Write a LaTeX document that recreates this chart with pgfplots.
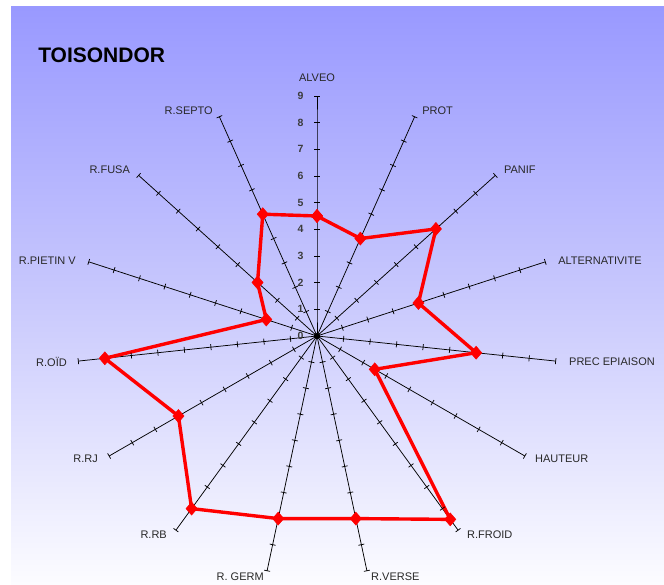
\documentclass[border=0pt]{standalone}
\usepackage{fontspec}
\setmainfont{Liberation Sans}
\usepackage{pgfplots}
\pgfplotsset{compat=1.18}
\definecolor{bgtop}{RGB}{153,153,255}
\definecolor{bgmid}{RGB}{200,200,253}
\definecolor{bgbot}{RGB}{252,252,255}
\definecolor{lbl}{RGB}{40,40,40}
\begin{document}
\begin{tikzpicture}
\begin{axis}[hide axis, x=26.667pt, y=26.667pt, scale only axis,
  xmin=-11.8875, xmax=13.0125, ymin=-9.3, ymax=12.6, clip=false]
\fill[white] (rel axis cs:0,0) rectangle (rel axis cs:1,1);
\shade[top color=bgtop, bottom color=bgbot, middle color=bgmid] (axis cs:-11.475,-9.3) rectangle (axis cs:13.0125,12.3375);
% spokes
\pgfplotsinvokeforeach{90,66,42,18,354,330,306,282,258,234,210,186,162,138,114}{
  \addplot[black, line width=0.75pt, data cs=polar, mark=|, mark size=3pt, mark options={rotate=#1, line width=0.75pt}]
    coordinates {(#1,0)(#1,1)(#1,2)(#1,3)(#1,4)(#1,5)(#1,6)(#1,7)(#1,8)(#1,9)};
}
\fill[black] (axis cs:0,0) circle[radius=2.5pt];
% data
\addplot[red, line width=3.4pt, data cs=polar, mark=diamond*, mark size=6.5pt, mark options={xscale=1.15, fill=red, line width=0.5pt}]
 coordinates {(90,4.5)(66,4)(42,6)(18,4)(354,6)(330,2.5)(306,8.5)(282,7)(258,7)(234,8)(210,6)(186,8)(162,2)(138,3)(114,5)(90,4.5)};
% tick numbers
\pgfplotsinvokeforeach{0,...,9}{
  \node[anchor=east, inner sep=0pt, font=\fontsize{10.5}{11}\selectfont\bfseries, text={rgb,255:red,60;green,60;blue,60}] at (axis cs:-0.5,#1) {#1};
}
% category labels
\node[anchor=center, inner sep=0pt, font=\fontsize{11}{12}\selectfont, text=lbl] at (axis cs:0,9.675) {ALVEO};
\node[anchor=west, inner sep=0pt, font=\fontsize{11}{12}\selectfont, text=lbl] at (axis cs:3.94,8.44) {PROT};
\node[anchor=west, inner sep=0pt, font=\fontsize{11}{12}\selectfont, text=lbl] at (axis cs:7.01,6.225) {PANIF};
\node[anchor=west, inner sep=0pt, font=\fontsize{11}{12}\selectfont, text=lbl] at (axis cs:9.04,2.81) {ALTERNATIVITE};
\node[anchor=west, inner sep=0pt, font=\fontsize{11}{12}\selectfont, text=lbl] at (axis cs:9.45,-0.975) {PREC EPIAISON};
\node[anchor=west, inner sep=0pt, font=\fontsize{11}{12}\selectfont, text=lbl] at (axis cs:8.175,-4.61) {HAUTEUR};
\node[anchor=west, inner sep=0pt, font=\fontsize{11}{12}\selectfont, text=lbl] at (axis cs:5.625,-7.46) {R.FROID};
\node[anchor=west, inner sep=0pt, font=\fontsize{11}{12}\selectfont, text=lbl] at (axis cs:2.025,-9.04) {R.VERSE};
\node[anchor=east, inner sep=0pt, font=\fontsize{11}{12}\selectfont, text=lbl] at (axis cs:-1.99,-9.04) {R. GERM};
\node[anchor=east, inner sep=0pt, font=\fontsize{11}{12}\selectfont, text=lbl] at (axis cs:-5.625,-7.46) {R.RB};
\node[anchor=east, inner sep=0pt, font=\fontsize{11}{12}\selectfont, text=lbl] at (axis cs:-8.21,-4.61) {R.RJ};
\node[anchor=east, inner sep=0pt, font=\fontsize{11}{12}\selectfont, text=lbl] at (axis cs:-9.375,-0.975) {R.OÏD};
\node[anchor=east, inner sep=0pt, font=\fontsize{11}{12}\selectfont, text=lbl] at (axis cs:-9.04,2.81) {R.PIETIN V};
\node[anchor=east, inner sep=0pt, font=\fontsize{11}{12}\selectfont, text=lbl] at (axis cs:-7.01,6.225) {R.FUSA};
\node[anchor=east, inner sep=0pt, font=\fontsize{11}{12}\selectfont, text=lbl] at (axis cs:-3.9,8.44) {R.SEPTO};
\node[anchor=west, inner sep=0pt, font=\fontsize{21}{23}\selectfont\bfseries] at (axis cs:-10.46,10.52) {TOISONDOR};
\end{axis}
\end{tikzpicture}
\end{document}
